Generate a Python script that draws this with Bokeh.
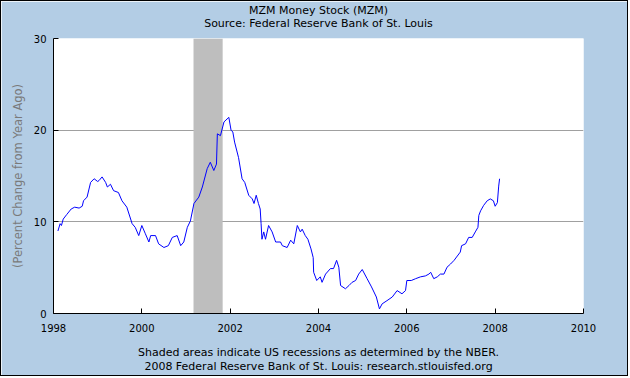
from bokeh.plotting import figure
from bokeh.models import Label, FixedTicker, ColumnDataSource
from bokeh.embed import file_html
from bokeh.resources import INLINE

# ---- data (decimal year, % change from year ago) ----
dates = [
    1998.10, 1998.15, 1998.18, 1998.22, 1998.30, 1998.40, 1998.48, 1998.58, 1998.65, 1998.68,
    1998.76, 1998.84, 1998.92, 1999.00, 1999.03, 1999.10, 1999.18, 1999.22, 1999.29, 1999.36,
    1999.47, 1999.55, 1999.66, 1999.78, 1999.85, 1999.93, 2000.00, 2000.08, 2000.16, 2000.20,
    2000.31, 2000.38, 2000.50, 2000.60, 2000.69, 2000.80, 2000.88, 2000.95, 2001.03, 2001.10,
    2001.18, 2001.29, 2001.37, 2001.48, 2001.55, 2001.63, 2001.69, 2001.71, 2001.78, 2001.86,
    2001.97, 2002.02, 2002.06, 2002.10, 2002.19, 2002.27, 2002.33, 2002.42, 2002.50, 2002.54,
    2002.59, 2002.64, 2002.68, 2002.70, 2002.72, 2002.76, 2002.80, 2002.87, 2002.95, 2003.03,
    2003.14, 2003.18, 2003.29, 2003.37, 2003.44, 2003.52, 2003.59, 2003.63, 2003.70, 2003.76,
    2003.83, 2003.88, 2003.89, 2003.96, 2004.04, 2004.08, 2004.16, 2004.27, 2004.34, 2004.41,
    2004.46, 2004.50, 2004.61, 2004.69, 2004.76, 2004.84, 2004.91, 2004.99, 2005.10, 2005.20,
    2005.31, 2005.38, 2005.44, 2005.55, 2005.67, 2005.78, 2005.89, 2005.97, 2006.00, 2006.10,
    2006.20, 2006.31, 2006.42, 2006.50, 2006.54, 2006.61, 2006.69, 2006.76, 2006.84, 2006.91,
    2006.99, 2007.07, 2007.21, 2007.24, 2007.33, 2007.40, 2007.48, 2007.55, 2007.61, 2007.63,
    2007.67, 2007.74, 2007.82, 2007.89, 2007.96, 2008.00, 2008.05, 2008.08, 2008.10,
]
values = [
    9.0, 9.8, 9.6, 10.3, 10.8, 11.4, 11.6, 11.5, 11.7, 12.3,
    12.7, 14.3, 14.7, 14.4, 14.5, 14.9, 14.3, 13.8, 14.1, 13.4,
    13.2, 12.3, 11.6, 9.8, 9.4, 8.5, 9.6, 8.7, 7.8, 8.5,
    8.5, 7.6, 7.2, 7.4, 8.3, 8.5, 7.4, 7.8, 9.4, 10.1,
    12.0, 12.7, 13.8, 15.8, 16.5, 15.6, 16.3, 19.6, 19.4, 20.9,
    21.4, 20.0, 19.8, 18.7, 17.0, 14.7, 14.3, 12.9, 12.5, 12.0,
    12.9, 12.0, 11.4, 9.8, 8.1, 8.9, 8.1, 9.6, 8.9, 7.8,
    7.8, 7.4, 7.2, 8.0, 7.6, 9.6, 8.9, 9.2, 8.5, 8.1,
    7.05, 6.1, 4.5, 3.6, 4.0, 3.4, 4.3, 4.9, 4.9, 5.8,
    5.05, 3.05, 2.7, 3.05, 3.4, 3.6, 4.3, 4.8, 3.8, 2.9,
    1.8, 0.5, 1.05, 1.4, 1.8, 2.5, 2.15, 2.5, 3.6, 3.6,
    3.8, 4.0, 4.1, 4.3, 4.5, 3.8, 4.0, 4.3, 4.3, 5.05,
    5.4, 5.8, 6.7, 7.4, 7.6, 8.3, 8.3, 8.9, 9.4, 10.7,
    11.2, 11.8, 12.3, 12.5, 12.3, 11.7, 12.1, 13.9, 14.7,
]
recession_start = [2001.17]
recession_end = [2001.83]
x_ticks = [1998, 2000, 2002, 2004, 2006, 2008, 2010]
y_ticks = [0, 10, 20, 30]

title_text = "MZM Money Stock (MZM)"
subtitle_text = "Source: Federal Reserve Bank of St. Louis"
y_label = "(Percent Change from Year Ago)"
footer1 = "Shaded areas indicate US recessions as determined by the NBER."
footer2 = "2008 Federal Reserve Bank of St. Louis: research.stlouisfed.org"

BG = "#B3CDE5"
FONT = "DejaVu Sans"

W, H = 628, 376
ML, MR, MT, MB = 52, 46, 37, 64

p = figure(width=W, height=H, x_range=(1998, 2010), y_range=(0, 30),
           output_backend="svg", toolbar_location=None,
           min_border_left=ML, min_border_right=MR, min_border_top=MT, min_border_bottom=MB,
           border_fill_color=BG, background_fill_color="white",
           styles={"border": "1px solid black"})
p.outline_line_color = None

# recession shading
rsrc = ColumnDataSource(dict(left=recession_start, right=recession_end,
                             bottom=[p.y_range.start], top=[p.y_range.end]))
p.quad(left="left", right="right", bottom="bottom", top="top", source=rsrc,
       fill_color="#BEBEBE", line_color=None)

p.line(dates, values, line_color="#0000FF", line_width=1)

# grids
p.xgrid.visible = False
p.ygrid.ticker = FixedTicker(ticks=[10, 20])
p.ygrid.grid_line_color = "#A0A0A0"
p.ygrid.grid_line_width = 1

# axes
for ax in (p.xaxis[0], p.yaxis[0]):
    ax.axis_line_color = "black"
    ax.major_tick_line_color = "black"
    ax.major_tick_in = 5
    ax.major_tick_out = 0
    ax.minor_tick_line_color = None
    ax.major_label_text_font = FONT
    ax.major_label_text_font_size = "10px"
    ax.major_label_text_color = "black"

p.xaxis.ticker = FixedTicker(ticks=x_ticks)
p.xaxis.major_label_standoff = 10
p.yaxis.ticker = FixedTicker(ticks=y_ticks)
p.yaxis.major_label_standoff = 7
p.yaxis.axis_label = y_label
p.yaxis.axis_label_text_font = FONT
p.yaxis.axis_label_text_font_size = "11.5px"
p.yaxis.axis_label_text_font_style = "normal"
p.yaxis.axis_label_text_color = "#7a7a7a"
p.yaxis.axis_label_standoff = 6

cx = (W - ML - MR) / 2


def make_label(txt, dy):
    # dy: screen offset (upward positive) from the bottom of the label's own panel slot
    return Label(x=cx, y=dy, x_units="screen", y_units="screen", text=txt,
                 text_align="center", text_baseline="middle",
                 text_font=FONT, text_font_size="11px", text_color="black")


# slots stack outward from the frame
head = [make_label(subtitle_text, 14.7), make_label(title_text, 14.7)]
foot = [make_label(footer1, -5.3), make_label(footer2, -5.7)]
p.above = head + list(p.above)
p.below = list(p.below) + foot

open("out.html", "w").write(file_html(p, INLINE))
